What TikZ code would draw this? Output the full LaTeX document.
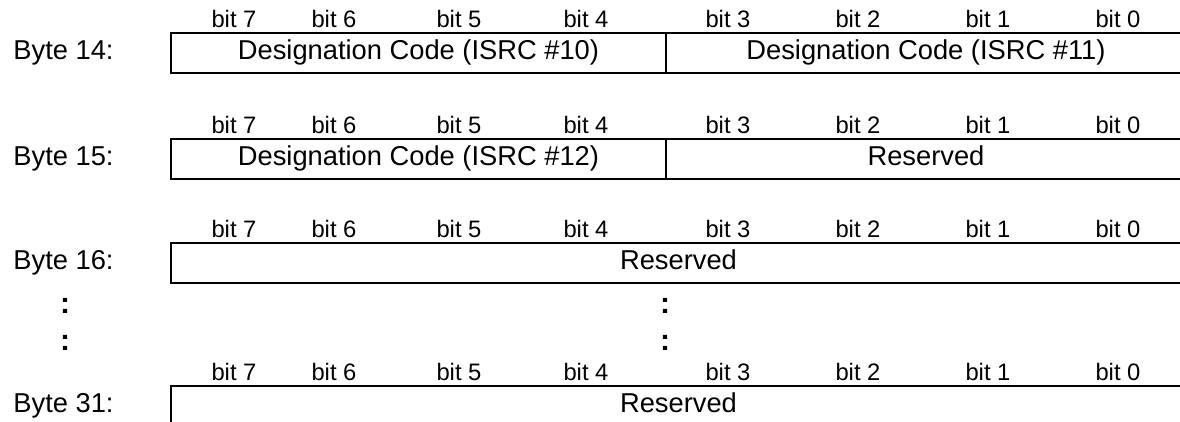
\documentclass[tikz,border=0pt]{standalone}
\usepackage{fontspec}
\setmainfont{Liberation Sans}
\begin{document}
\begin{tikzpicture}[x=0.5pt,y=-0.5pt,
  bitlbl/.style={font=\fontsize{11.9}{14}\selectfont, anchor=base, inner sep=0pt},
  bytelbl/.style={font=\fontsize{13.65}{16}\selectfont, anchor=base west, inner sep=0pt},
  dots/.style={font=\fontsize{15}{18}\selectfont\bfseries, anchor=base, inner sep=0pt},
  field/.style={draw, line width=0.9pt, minimum height=20pt, inner sep=0pt,
    text height=10pt, text depth=3pt, font=\fontsize{13.65}{16}\selectfont},
  half/.style={field, minimum width=247.5pt},
  rhalf/.style={field, minimum width=260pt},
  full/.style={field, minimum width=507.5pt}]
\useasboundingbox (0,0) rectangle (1180,422);
% bit label rows
\foreach \r/\t in {a/33,b/139,c/243,d/386}{
  \foreach \b/\x in {7/234,6/334,5/459,4/586,3/728,2/858,1/988,0/1118}{
    \node[bitlbl] (bit\r\b) at (\x,\t-5) {bit \b};
  }
}
% Byte 14
\node[bytelbl] (b14) at (13,60) {Byte 14:};
\node[half] (f14a) at (418.5,53) {Designation Code (ISRC \#10)};
\node[rhalf] (f14b) at (926,53) {Designation Code (ISRC \#11)};
% Byte 15
\node[bytelbl] (b15) at (13,166) {Byte 15:};
\node[half] (f15a) at (418.5,159) {Designation Code (ISRC \#12)};
\node[rhalf] (f15b) at (926,159) {Reserved};
% Byte 16
\node[bytelbl] (b16) at (13,270) {Byte 16:};
\node[full] (f16) at (678.5,263) {Reserved};
% ellipsis
\node[dots] (d1) at (65,314) {:};
\node[dots] (d2) at (65,351) {:};
\node[dots] (d3) at (665,314) {:};
\node[dots] (d4) at (665,351) {:};
% Byte 31
\node[bytelbl] (b31) at (13,413) {Byte 31:};
\node[full] (f31) at (678.5,406) {Reserved};
\end{tikzpicture}
\end{document}
